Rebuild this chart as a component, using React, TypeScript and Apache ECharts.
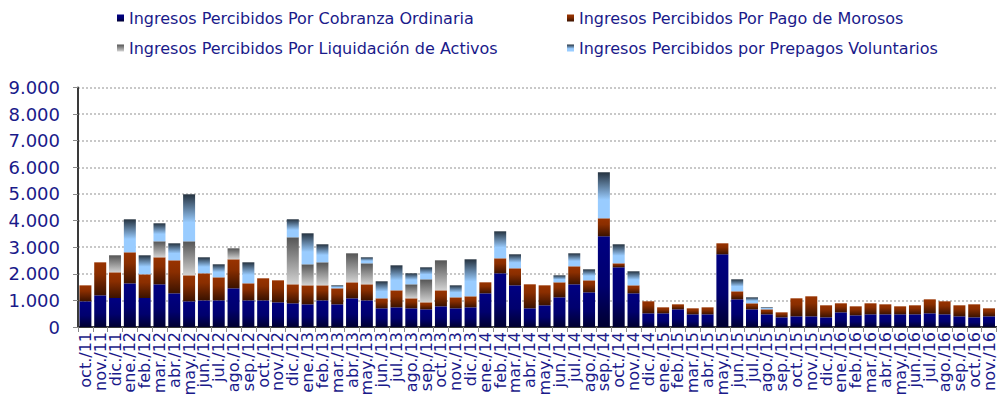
import React, { useEffect, useRef } from "react";
import * as echarts from "echarts";

const months = [
  "oct./11", "nov./11", "dic./11",
  "ene./12", "feb./12", "mar./12", "abr./12", "may./12", "jun./12", "jul./12", "ago./12", "sep./12", "oct./12", "nov./12", "dic./12",
  "ene./13", "feb./13", "mar./13", "abr./13", "may./13", "jun./13", "jul./13", "ago./13", "sep./13", "oct./13", "nov./13", "dic./13",
  "ene./14", "feb./14", "mar./14", "abr./14", "may./14", "jun./14", "jul./14", "ago./14", "sep./14", "oct./14", "nov./14", "dic./14",
  "ene./15", "feb./15", "mar./15", "abr./15", "may./15", "jun./15", "jul./15", "ago./15", "sep./15", "oct./15", "nov./15", "dic./15",
  "ene./16", "feb./16", "mar./16", "abr./16", "may./16", "jun./16", "jul./16", "ago./16", "sep./16", "oct./16", "nov./16",
];

const cobranza = [
  965, 1190, 1090, 1640, 1090, 1604, 1266, 965, 1000, 1000,
  1454, 1000, 1000, 927, 890, 852, 1000, 852, 1078, 1000,
  702, 739, 702, 664, 777, 702, 739, 1266, 2018, 1566,
  702, 815, 1115, 1604, 1303, 3409, 2243, 1266, 514, 514,
  664, 476, 476, 2732, 1040, 664, 476, 363, 401, 401,
  363, 551, 439, 476, 476, 476, 476, 514, 476, 401,
  363, 401,
];

const morosos = [
  600, 1240, 965, 1167, 890, 1015, 1240, 977, 1018, 867,
  1090, 642, 830, 827, 714, 714, 566, 602, 601, 604,
  376, 639, 376, 263, 601, 413, 414, 413, 563, 640,
  902, 751, 564, 677, 451, 676, 150, 300, 451, 225,
  188, 226, 263, 413, 301, 226, 188, 188, 677, 752,
  452, 339, 338, 414, 376, 301, 339, 526, 489, 414,
  489, 301,
];

const liquidacion = [
  0, 0, 640, 0, 0, 601, 0, 1278, 0, 0,
  413, 0, 0, 0, 1767, 790, 865, 0, 1090, 789,
  0, 0, 526, 865, 1128, 0, 0, 0, 0, 0,
  0, 0, 0, 0, 0, 0, 0, 0, 0, 0,
  0, 0, 0, 0, 0, 0, 0, 0, 0, 0,
  0, 0, 0, 0, 0, 0, 0, 0, 0, 0,
  0, 0,
];

const prepagos = [
  0, 0, 0, 1240, 714, 677, 639, 1767, 601, 489,
  0, 789, 0, 0, 677, 1165, 677, 112, 0, 226,
  639, 940, 414, 451, 0, 451, 1391, 0, 1015, 526,
  0, 0, 263, 488, 414, 1730, 715, 527, 0, 0,
  0, 0, 0, 0, 451, 225, 75, 0, 0, 0,
  0, 0, 0, 0, 0, 0, 0, 0, 0, 0,
  0, 0,
];

const seriesNames = [
  "Ingresos Percibidos Por Cobranza Ordinaria",
  "Ingresos Percibidos Por Pago de Morosos",
  "Ingresos Percibidos Por Liquidación de Activos",
  "Ingresos Percibidos por Prepagos Voluntarios",
];

const yTicks = [0, 1000, 2000, 3000, 4000, 5000, 6000, 7000, 8000, 9000];

const grad = (stops: [number, string][]) =>
  new echarts.graphic.LinearGradient(
    0, 0, 0, 1,
    stops.map(([offset, color]) => ({ offset, color }))
  );

const TEXT = "#1a1a8a";
const FONT = "DejaVu Sans, Verdana, sans-serif";

export default function App() {
  const ref = useRef<HTMLDivElement>(null);
  useEffect(() => {
    if (!ref.current) return;
    const chart = echarts.init(ref.current, undefined, { renderer: "svg" });
    const colors = [
      grad([[0, "#000082"], [0.55, "#00006e"], [1, "#000030"]]),
      grad([[0, "#993300"], [0.35, "#8a2e00"], [1, "#3a1200"]]),
      grad([[0, "#555555"], [1, "#d2d2d2"]]),
      grad([[0, "#25323f"], [0.6, "#99ccff"], [1, "#99ccff"]]),
    ];
    const datas = [cobranza, morosos, liquidacion, prepagos];
    const legendPos = [
      { left: 117, top: 10 },
      { left: 567, top: 10 },
      { left: 117, top: 40 },
      { left: 567, top: 40 },
    ];
    chart.setOption({
      animation: false,
      legend: seriesNames.map((n, i) => ({
        data: [n],
        left: legendPos[i].left,
        top: legendPos[i].top,
        padding: 0,
        icon: "rect",
        itemWidth: 7,
        itemHeight: 7,
        textStyle: { color: TEXT, fontSize: 16, fontFamily: FONT },
        selectedMode: false,
      })),
      grid: { left: 78, right: -3, top: 87.5, bottom: 78, containLabel: false },
      xAxis: {
        type: "category",
        data: months,
        boundaryGap: true,
        axisLine: { show: true, lineStyle: { color: "#3a3a3a", width: 2 } },
        axisTick: { show: true, interval: 0, length: 5, lineStyle: { color: "#8a8a8a", width: 1 } },
        axisLabel: {
          interval: 0,
          rotate: 90,
          color: TEXT,
          fontSize: 16,
          fontFamily: FONT,
          margin: 5,
        },
      },
      yAxis: {
        type: "value",
        min: yTicks[0],
        max: yTicks[yTicks.length - 1],
        interval: 1000,
        axisLine: { show: true, lineStyle: { color: "#3a3a3a", width: 2 } },
        axisTick: { show: true, length: 5, lineStyle: { color: "#8a8a8a" } },
        axisLabel: {
          color: TEXT,
          fontSize: 18,
          fontFamily: FONT,
          margin: 18,
          formatter: (v: number) =>
            v === 0 ? "0" : String(v).replace(/\B(?=(\d{3})+(?!\d))/g, "."),
        },
        splitLine: { show: true, lineStyle: { color: "#c8c8c8", width: 2, type: [2, 2] } },
      },
      series: seriesNames.map((n, i) => ({
        name: n,
        type: "bar",
        stack: "total",
        barWidth: 12,
        data: datas[i],
        itemStyle: { color: colors[i] },
      })),
    });
    return () => chart.dispose();
  }, []);
  return (
    <div
      ref={ref}
      style={{ position: "absolute", left: 0, top: 0, width: 997, height: 405 }}
    />
  );
}
